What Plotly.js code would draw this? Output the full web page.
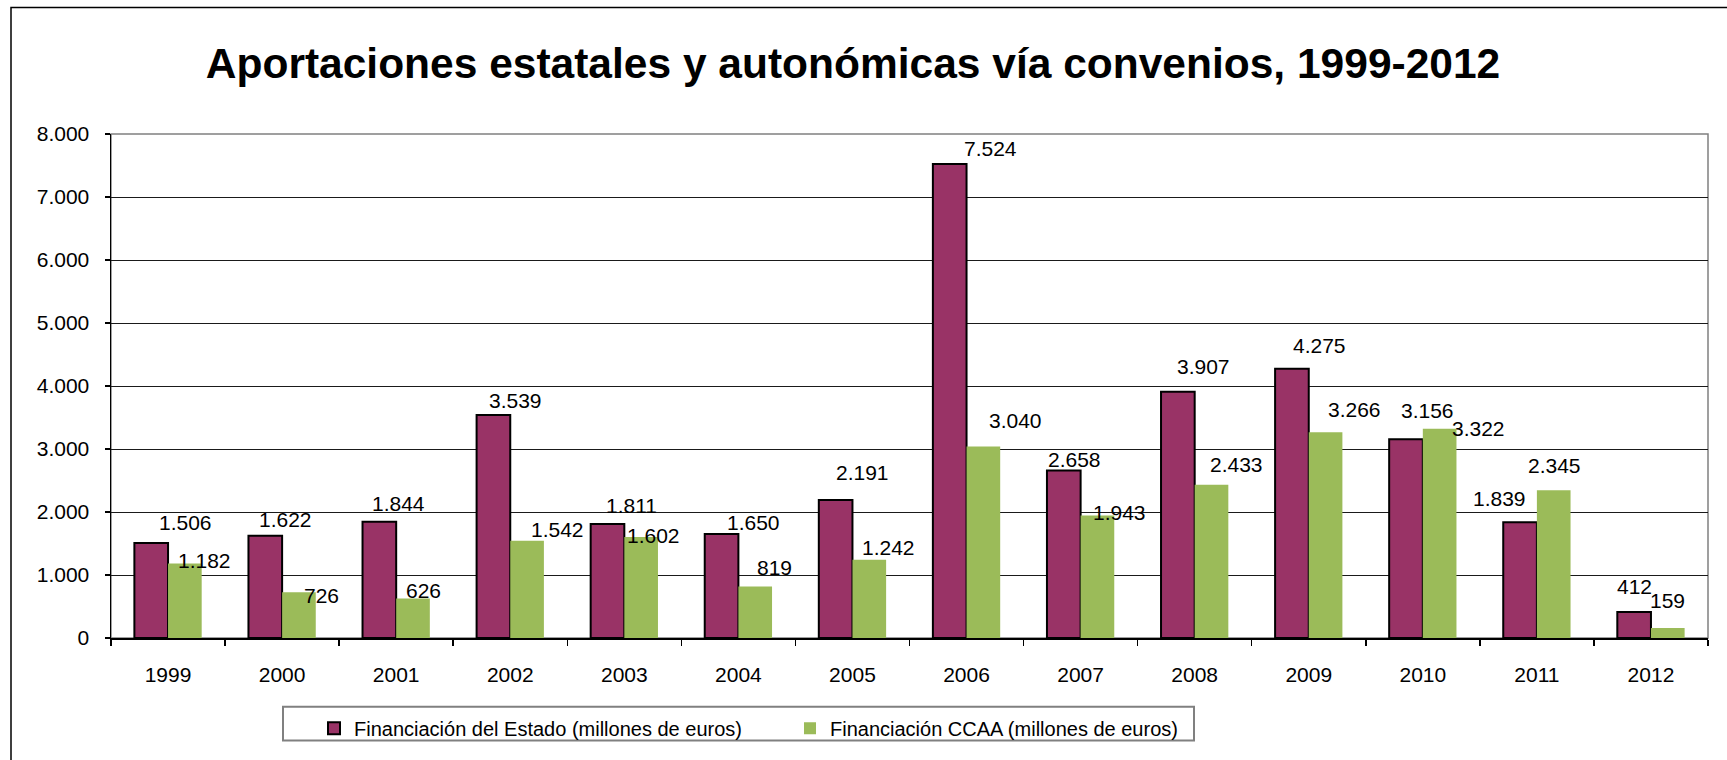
<!DOCTYPE html>
<html>
<head>
<meta charset="utf-8">
<script src="https://cdn.plot.ly/plotly-3.0.1.min.js"></script>
<style>
html,body{margin:0;padding:0;background:#fff;}
#chart{width:1727px;height:760px;}
</style>
</head>
<body>
<div id="chart"></div>
<script>
// ---- data ----
const years = ['1999','2000','2001','2002','2003','2004','2005','2006','2007','2008','2009','2010','2011','2012'];
const estado = [1506,1622,1844,3539,1811,1650,2191,7524,2658,3907,4275,3156,1839,412];
const ccaa = [1182,726,626,1542,1602,819,1242,3040,1943,2433,3266,3322,2345,159];
const seriesNames = ['Financiación del Estado (millones de euros)','Financiación CCAA (millones de euros)'];
const titleText = 'Aportaciones estatales y autonómicas vía convenios, 1999-2012';

// ---- label nudges (px) as placed in the original ----
const estadoDx = [34,20,19,22,24,32,27,41,11,26,28,21,-21,0];
const estadoDy = [21,16,18,15,18,12,27,15,11,25,23,29,24,26];
const ccaaDx = [20,23,10,30,12,19,19,32,22,25,29,39,1,0];
const ccaaDy = [3,-3,8,11,2,19,12,26,3,20,23,0,25,27];

const FONT = 'Liberation Sans, Arial, sans-serif';
const bargap = 0.41;
const half = (1 - bargap) / 4;

function fmt(v){ return String(v).replace(/\B(?=(\d{3})+(?!\d))/g, '.'); }

const traces = [
  {type:'bar', name:seriesNames[0], x:years, y:estado,
   marker:{color:'#993366', line:{color:'#000000', width:2}}, hoverinfo:'none'},
  {type:'bar', name:seriesNames[1], x:years, y:ccaa,
   marker:{color:'#9BBB59', line:{width:0}}, hoverinfo:'none'}
];

const annotations = [];
years.forEach((yr,i)=>{
  annotations.push({x:i - half, y:estado[i], xref:'x', yref:'y', text:fmt(estado[i]),
    showarrow:false, xanchor:'center', yanchor:'middle', xshift:estadoDx[i], yshift:estadoDy[i],
    font:{family:FONT, size:21, color:'#000'}});
  annotations.push({x:i + half, y:ccaa[i], xref:'x', yref:'y', text:fmt(ccaa[i]),
    showarrow:false, xanchor:'center', yanchor:'middle', xshift:ccaaDx[i], yshift:ccaaDy[i],
    font:{family:FONT, size:21, color:'#000'}});
});

const L = 111, R = 1708, T = 134, B = 640, W = 1727, H = 760;
const pw = R - L, ph = B - T;
const px = v => (v - L) / pw;
const py = v => (B - v) / ph;

const layout = {
  width: W, height: H,
  margin: {l:L, r:W-R, t:T, b:H-B, pad:0},
  paper_bgcolor:'#ffffff', plot_bgcolor:'#ffffff',
  separators: ',.',
  font:{family:FONT, size:20, color:'#000'},
  title:{text:titleText, font:{family:FONT, size:42.5, color:'#000', weight:'bold'},
    x:853/W, xref:'container', xanchor:'center', y:1-63/H, yref:'container', yanchor:'middle'},
  barmode:'group', bargap:bargap, bargroupgap:0,
  showlegend:true,
  legend:{orientation:'h', x:px(314), xanchor:'left', y:py(711), yanchor:'top',
    bgcolor:'rgba(0,0,0,0)', borderwidth:0,
    font:{family:FONT, size:20, color:'#000'}, itemwidth:30,
    entrywidth:431, entrywidthmode:'pixels', traceorder:'normal'},
  xaxis:{type:'category', showgrid:false, zeroline:false, showline:true, linecolor:'#000', linewidth:1.5,
    ticks:'outside', tickson:'boundaries', ticklen:6, tickcolor:'#000', tickwidth:1.5,
    ticklabelstandoff:17, tickfont:{family:FONT, size:21, color:'#000'}, fixedrange:true},
  yaxis:{range:[0,8000], dtick:1000, tickformat:',d', showgrid:true, gridcolor:'#1a1a1a', gridwidth:1,
    zeroline:false, showline:true, linecolor:'#000', linewidth:1.5,
    ticks:'outside', ticklen:5, tickcolor:'#000', tickwidth:1.5, ticklabelstandoff:11,
    tickfont:{family:FONT, size:21, color:'#000'}, fixedrange:true},
  annotations: annotations,
  shapes:[
    {type:'rect', xref:'paper', yref:'paper', x0:0, x1:1, y0:0, y1:1,
     line:{color:'#808080', width:1.5}, layer:'below'},
    {type:'rect', xref:'paper', yref:'paper', x0:px(11), x1:px(W+20), y0:py(H+20), y1:py(7),
     line:{color:'#000', width:1.5}, fillcolor:'rgba(0,0,0,0)', layer:'above'},
    {type:'rect', xref:'paper', yref:'paper', x0:px(283), x1:px(1194), y0:py(743), y1:py(709),
     line:{color:'#808080', width:2}, fillcolor:'#ffffff', layer:'above'}
  ]
};

Plotly.newPlot('chart', traces, layout, {displayModeBar:false, staticPlot:true});
</script>
</body>
</html>
